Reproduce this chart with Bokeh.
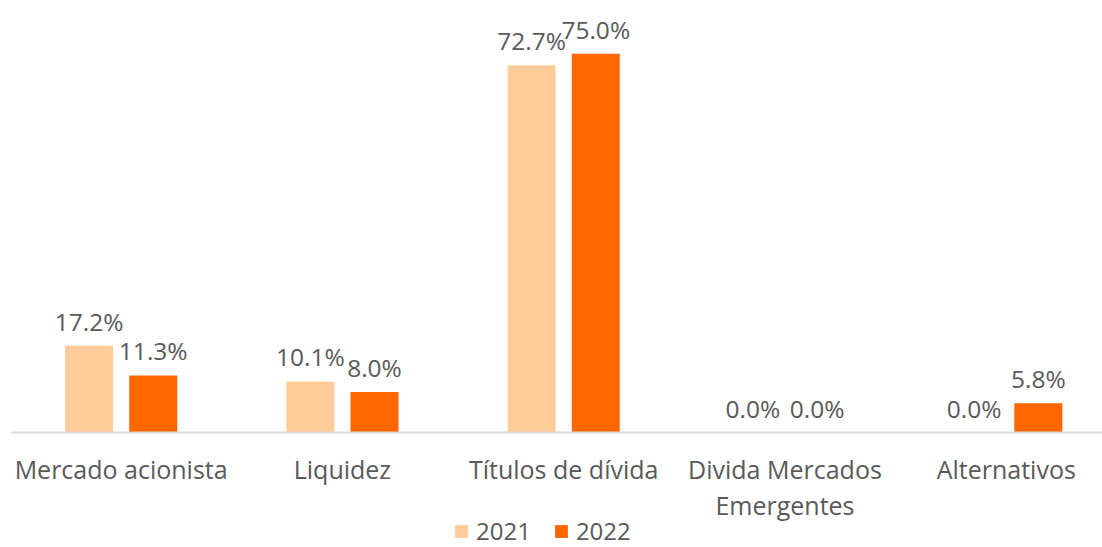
from bokeh.plotting import figure
from bokeh.models import ColumnDataSource, Range1d, Span, Legend, LegendItem
from bokeh.transform import dodge
from bokeh.core.properties import value
from bokeh.embed import file_html
from bokeh.resources import INLINE

categories = ["Mercado acionista", "Liquidez", "Títulos de dívida", "Divida Mercados\nEmergentes", "Alternativos"]
series = ["2021", "2022"]
v2021 = [17.2, 10.1, 72.7, 0.0, 0.0]
v2022 = [11.3, 8.0, 75.0, 0.0, 5.8]
colors = ["#FFCC99", "#FF6600"]

FONT = "Open Sans"
TXT = "#595959"

idx = list(range(len(categories)))
src = ColumnDataSource(dict(
    idx=idx, cat=categories, v2021=v2021, v2022=v2022,
    l2021=[f"{v:.1f}%" for v in v2021],
    l2022=[f"{v:.1f}%" for v in v2022],
    lab_y=[-3.8] * len(categories),
))

p = figure(width=1102, height=547, x_range=Range1d(-0.5, 4.435),
           y_range=(-22.77, 85.54), output_backend="svg", toolbar_location=None,
           min_border_left=10, min_border_right=0, min_border_top=0, min_border_bottom=0)
p.axis.visible = False
p.grid.visible = False
p.outline_line_color = None

w = 0.217
off = 0.145
r1 = p.vbar(x=dodge("idx", -off), top="v2021", bottom=0, width=w,
            source=src, fill_color=colors[0], line_color=None)
r2 = p.vbar(x=dodge("idx", off), top="v2022", bottom=0, width=w,
            source=src, fill_color=colors[1], line_color=None)

p.add_layout(Span(location=0, dimension="width", line_color="#D9D9D9", line_width=2))

for o, col, lab in [(-off, "v2021", "l2021"), (off, "v2022", "l2022")]:
    p.text(x=dodge("idx", o), y=col, text=lab, source=src,
           text_align="center", text_baseline="bottom", y_offset=-8,
           text_font=value(FONT), text_font_size="24.5px", text_color=TXT)

p.text(x="idx", y="lab_y", text="cat", source=src, text_align="center", text_baseline="top",
       text_font=value(FONT), text_font_size="25px", text_color=TXT, text_line_height=1.08)

legend = Legend(items=[LegendItem(label=series[0], renderers=[r1]),
                       LegendItem(label=series[1], renderers=[r2])],
                orientation="horizontal", location=(443, 0), padding=0, margin=0,
                spacing=22, label_standoff=7, glyph_width=16, glyph_height=16,
                label_height=16,
                label_text_font=FONT, label_text_font_size="24px", label_text_color=TXT,
                border_line_alpha=0, background_fill_alpha=0)
p.add_layout(legend)

open("out.html", "w").write(file_html(p, INLINE))
